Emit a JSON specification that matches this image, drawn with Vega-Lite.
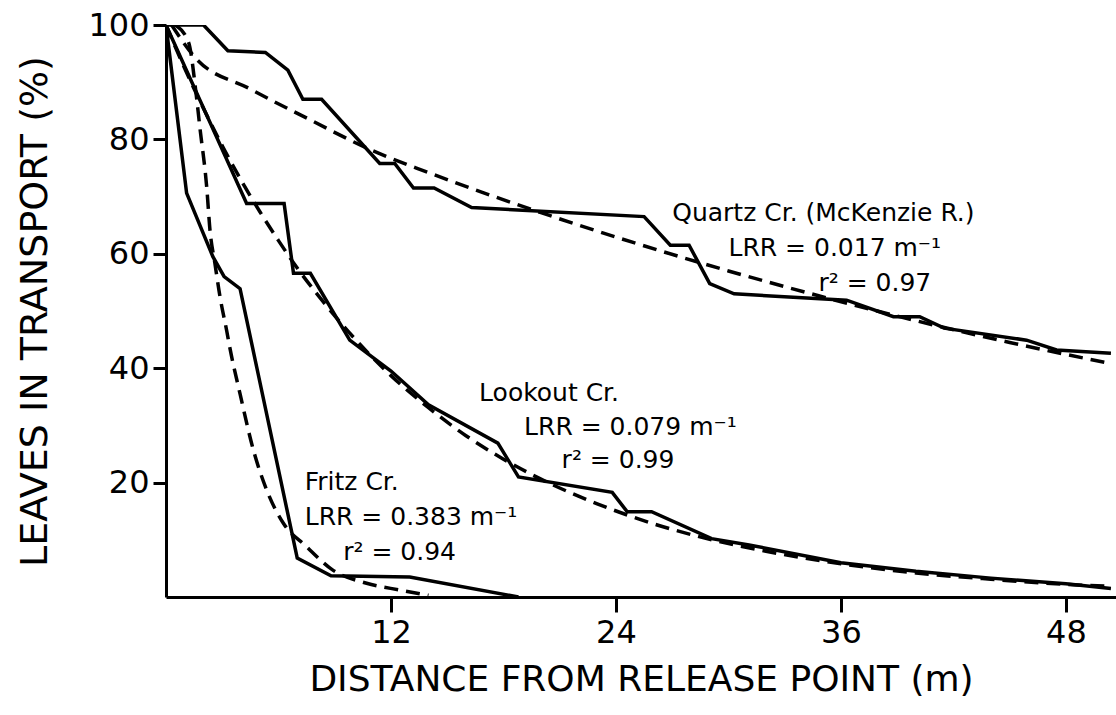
{
  "$schema": "https://vega.github.io/schema/vega-lite/v6.json",
  "width": 950,
  "height": 572,
  "autosize": "none",
  "padding": {"left": 166, "top": 25, "right": 0, "bottom": 118},
  "background": "white",
  "config": {
    "view": {"stroke": null},
    "font": "DejaVu Sans",
    "axis": {
      "grid": false,
      "domainColor": "black",
      "domainWidth": 3,
      "tickColor": "black",
      "tickWidth": 3,
      "labelColor": "black",
      "titleColor": "black",
      "labelFont": "DejaVu Sans",
      "titleFont": "DejaVu Sans",
      "titleFontWeight": "normal"
    }
  },
  "datasets": {
    "observed": [
      {"creek": "Quartz", "x": 0, "y": 100},
      {"creek": "Quartz", "x": 2.0, "y": 100},
      {"creek": "Quartz", "x": 3.3, "y": 95.5},
      {"creek": "Quartz", "x": 5.3, "y": 95.2},
      {"creek": "Quartz", "x": 6.5, "y": 92.1},
      {"creek": "Quartz", "x": 7.3, "y": 87.0},
      {"creek": "Quartz", "x": 8.3, "y": 87.0},
      {"creek": "Quartz", "x": 11.4, "y": 75.8},
      {"creek": "Quartz", "x": 12.2, "y": 75.8},
      {"creek": "Quartz", "x": 13.2, "y": 71.5},
      {"creek": "Quartz", "x": 14.3, "y": 71.5},
      {"creek": "Quartz", "x": 16.3, "y": 68.1},
      {"creek": "Quartz", "x": 25.5, "y": 66.5},
      {"creek": "Quartz", "x": 26.9, "y": 61.5},
      {"creek": "Quartz", "x": 27.9, "y": 61.5},
      {"creek": "Quartz", "x": 29.0, "y": 54.8},
      {"creek": "Quartz", "x": 30.3, "y": 53.0},
      {"creek": "Quartz", "x": 36.3, "y": 51.9},
      {"creek": "Quartz", "x": 38.8, "y": 49.0},
      {"creek": "Quartz", "x": 40.2, "y": 49.0},
      {"creek": "Quartz", "x": 41.5, "y": 47.0},
      {"creek": "Quartz", "x": 45.9, "y": 44.9},
      {"creek": "Quartz", "x": 47.5, "y": 43.2},
      {"creek": "Quartz", "x": 50.4, "y": 42.6},
      {"creek": "Lookout", "x": 0, "y": 100},
      {"creek": "Lookout", "x": 4.3, "y": 68.8},
      {"creek": "Lookout", "x": 6.3, "y": 68.8},
      {"creek": "Lookout", "x": 6.8, "y": 56.6},
      {"creek": "Lookout", "x": 7.7, "y": 56.6},
      {"creek": "Lookout", "x": 9.8, "y": 44.9},
      {"creek": "Lookout", "x": 12.0, "y": 39.5},
      {"creek": "Lookout", "x": 14.0, "y": 33.6},
      {"creek": "Lookout", "x": 17.7, "y": 26.9},
      {"creek": "Lookout", "x": 18.8, "y": 21.0},
      {"creek": "Lookout", "x": 23.8, "y": 18.3},
      {"creek": "Lookout", "x": 24.6, "y": 14.9},
      {"creek": "Lookout", "x": 25.9, "y": 14.9},
      {"creek": "Lookout", "x": 29.1, "y": 10.2},
      {"creek": "Lookout", "x": 31.1, "y": 9.1},
      {"creek": "Lookout", "x": 36.0, "y": 6.0},
      {"creek": "Lookout", "x": 40.0, "y": 4.5},
      {"creek": "Lookout", "x": 44.0, "y": 3.3},
      {"creek": "Lookout", "x": 48.0, "y": 2.3},
      {"creek": "Lookout", "x": 50.4, "y": 1.5},
      {"creek": "Fritz", "x": 0, "y": 100},
      {"creek": "Fritz", "x": 1.1, "y": 70.6},
      {"creek": "Fritz", "x": 2.5, "y": 59.5},
      {"creek": "Fritz", "x": 3.1, "y": 56.0},
      {"creek": "Fritz", "x": 3.95, "y": 53.9},
      {"creek": "Fritz", "x": 7.0, "y": 6.8},
      {"creek": "Fritz", "x": 8.8, "y": 3.7},
      {"creek": "Fritz", "x": 13.0, "y": 3.5},
      {"creek": "Fritz", "x": 18.8, "y": 0}
    ],
    "fitted": [
      {"creek": "Quartz", "x": 0.3, "y": 100},
      {"creek": "Quartz", "x": 1.5, "y": 94.5},
      {"creek": "Quartz", "x": 4.5, "y": 88.8},
      {"creek": "Quartz", "x": 7.7, "y": 83.4},
      {"creek": "Quartz", "x": 10.9, "y": 78.2},
      {"creek": "Quartz", "x": 14.0, "y": 74.2},
      {"creek": "Quartz", "x": 20.0, "y": 67.2},
      {"creek": "Quartz", "x": 25.0, "y": 61.9},
      {"creek": "Quartz", "x": 30.0, "y": 57.0},
      {"creek": "Quartz", "x": 35.0, "y": 52.5},
      {"creek": "Quartz", "x": 40.0, "y": 48.3},
      {"creek": "Quartz", "x": 45.0, "y": 44.5},
      {"creek": "Quartz", "x": 50.4, "y": 40.8},
      {"creek": "Lookout", "x": 0, "y": 100},
      {"creek": "Lookout", "x": 1, "y": 92.4},
      {"creek": "Lookout", "x": 2, "y": 85.4},
      {"creek": "Lookout", "x": 3, "y": 78.9},
      {"creek": "Lookout", "x": 4, "y": 72.9},
      {"creek": "Lookout", "x": 5, "y": 67.4},
      {"creek": "Lookout", "x": 6, "y": 62.3},
      {"creek": "Lookout", "x": 7, "y": 57.5},
      {"creek": "Lookout", "x": 8, "y": 53.2},
      {"creek": "Lookout", "x": 10, "y": 45.4},
      {"creek": "Lookout", "x": 12, "y": 38.7},
      {"creek": "Lookout", "x": 14, "y": 33.1},
      {"creek": "Lookout", "x": 16, "y": 28.2},
      {"creek": "Lookout", "x": 18, "y": 24.1},
      {"creek": "Lookout", "x": 20, "y": 20.6},
      {"creek": "Lookout", "x": 23, "y": 16.3},
      {"creek": "Lookout", "x": 26, "y": 12.8},
      {"creek": "Lookout", "x": 29, "y": 10.1},
      {"creek": "Lookout", "x": 32, "y": 8.0},
      {"creek": "Lookout", "x": 36, "y": 5.8},
      {"creek": "Lookout", "x": 40, "y": 4.2},
      {"creek": "Lookout", "x": 44, "y": 3.1},
      {"creek": "Lookout", "x": 48, "y": 2.2},
      {"creek": "Lookout", "x": 50.4, "y": 1.9},
      {"creek": "Fritz", "x": 0.5, "y": 100},
      {"creek": "Fritz", "x": 1.2, "y": 97},
      {"creek": "Fritz", "x": 1.64, "y": 87},
      {"creek": "Fritz", "x": 1.81, "y": 82},
      {"creek": "Fritz", "x": 2.17, "y": 71.7},
      {"creek": "Fritz", "x": 2.35, "y": 64},
      {"creek": "Fritz", "x": 2.61, "y": 58.3},
      {"creek": "Fritz", "x": 2.88, "y": 52.5},
      {"creek": "Fritz", "x": 3.24, "y": 46.5},
      {"creek": "Fritz", "x": 3.41, "y": 43.5},
      {"creek": "Fritz", "x": 3.95, "y": 35.5},
      {"creek": "Fritz", "x": 4.66, "y": 25.7},
      {"creek": "Fritz", "x": 5.37, "y": 18.7},
      {"creek": "Fritz", "x": 6.26, "y": 12.9},
      {"creek": "Fritz", "x": 7.5, "y": 8.8},
      {"creek": "Fritz", "x": 8.9, "y": 4.7},
      {"creek": "Fritz", "x": 10.7, "y": 2.4},
      {"creek": "Fritz", "x": 12.5, "y": 1.2},
      {"creek": "Fritz", "x": 14.0, "y": 0.3}
    ],
    "labels": [
      {"x": 27.0, "y": 67.1, "text": "Quartz Cr. (McKenzie R.)"},
      {"x": 30.0, "y": 61.0, "text": "LRR = 0.017 m⁻¹"},
      {"x": 34.8, "y": 54.9, "text": "r² = 0.97"},
      {"x": 16.7, "y": 35.7, "text": "Lookout Cr."},
      {"x": 19.1, "y": 29.7, "text": "LRR = 0.079 m⁻¹"},
      {"x": 21.1, "y": 24.0, "text": "r² = 0.99"},
      {"x": 7.4, "y": 20.1, "text": "Fritz Cr."},
      {"x": 7.4, "y": 14.0, "text": "LRR = 0.383 m⁻¹"},
      {"x": 9.45, "y": 7.9, "text": "r² = 0.94"}
    ]
  },
  "layer": [
    {
      "data": {"name": "observed"},
      "mark": {"type": "line", "color": "black", "strokeWidth": 3.5, "strokeJoin": "miter", "clip": true},
      "encoding": {
        "x": {
          "field": "x", "type": "quantitative",
          "scale": {"domain": [0, 50.67], "nice": false, "zero": false},
          "axis": {
            "values": [12, 24, 36, 48],
            "tickSize": 15,
            "labelFontSize": 32,
            "labelPadding": 5,
            "title": "DISTANCE FROM RELEASE POINT (m)",
            "titleFontSize": 36,
            "titlePadding": 14
          }
        },
        "y": {
          "field": "y", "type": "quantitative",
          "scale": {"domain": [0, 100], "nice": false},
          "axis": {
            "values": [20, 40, 60, 80, 100],
            "tickSize": 13,
            "labelFontSize": 32,
            "labelPadding": 4,
            "title": "LEAVES IN TRANSPORT (%)",
            "titleFontSize": 38,
            "titlePadding": 33
          }
        },
        "detail": {"field": "creek"}
      }
    },
    {
      "data": {"name": "fitted"},
      "mark": {"type": "line", "color": "black", "strokeWidth": 3.5, "strokeDash": [14, 8], "interpolate": "monotone", "clip": true},
      "encoding": {
        "x": {"field": "x", "type": "quantitative"},
        "y": {"field": "y", "type": "quantitative"},
        "detail": {"field": "creek"}
      }
    },
    {
      "data": {"name": "labels"},
      "mark": {"type": "text", "align": "left", "baseline": "middle", "fontSize": 25, "color": "black"},
      "encoding": {
        "x": {"field": "x", "type": "quantitative"},
        "y": {"field": "y", "type": "quantitative"},
        "text": {"field": "text"}
      }
    }
  ]
}
